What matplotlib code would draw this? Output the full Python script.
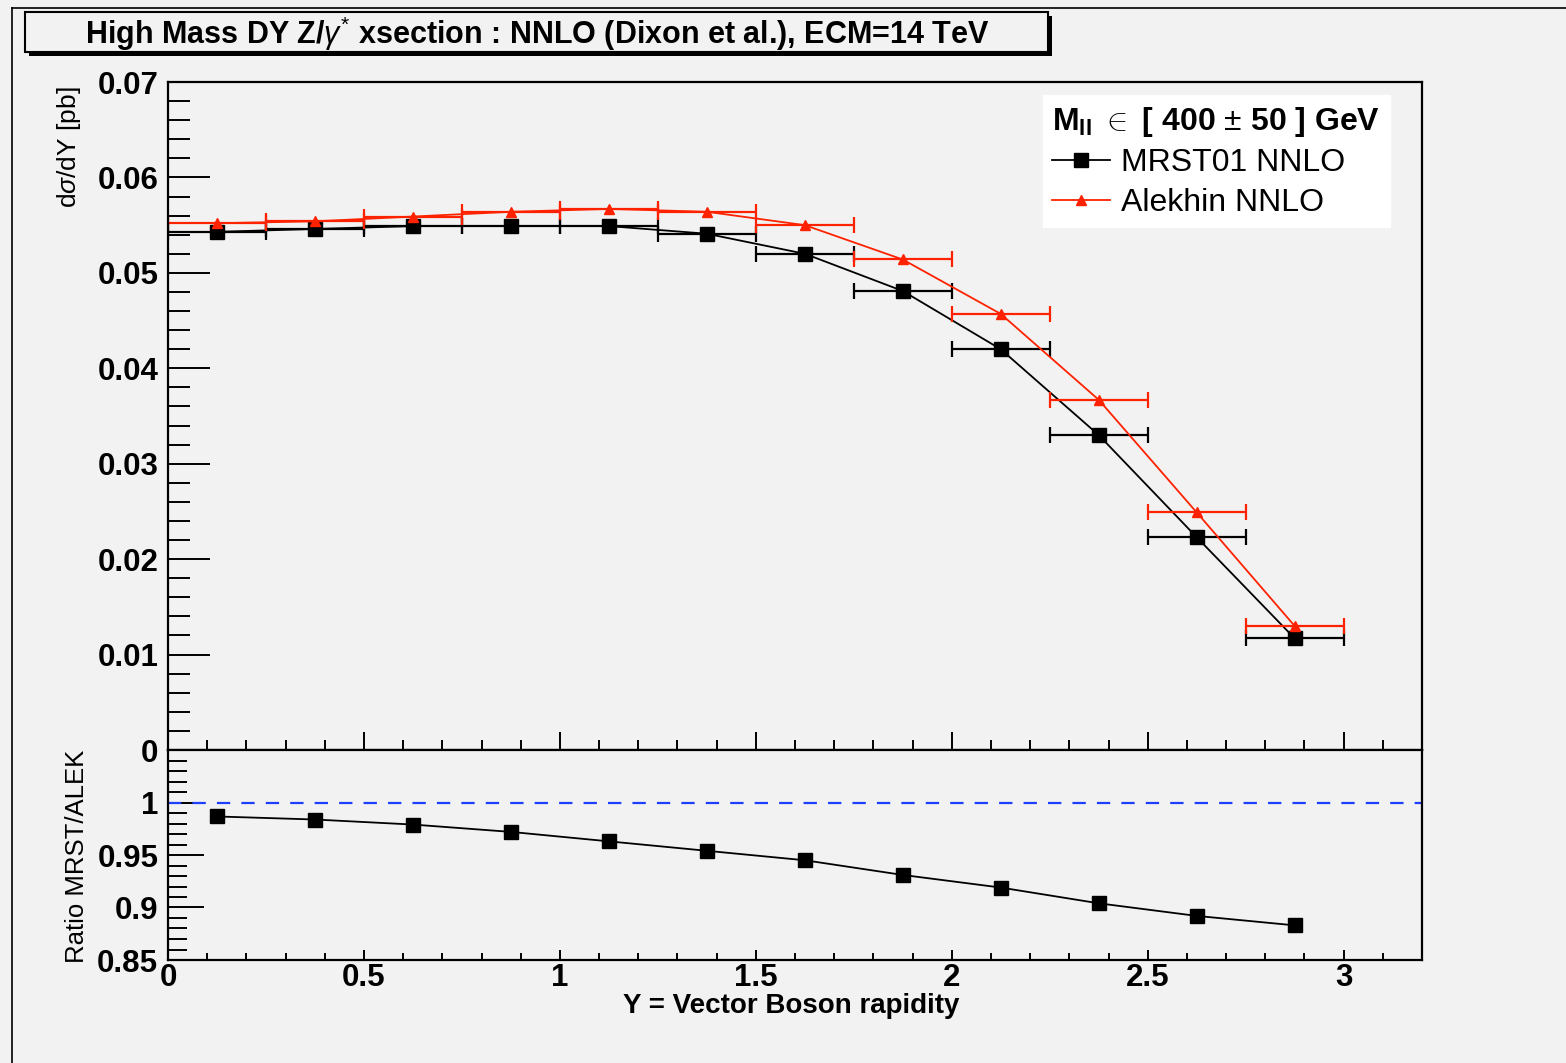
import matplotlib
matplotlib.use('Agg')
import matplotlib.pyplot as plt
from matplotlib.lines import Line2D
from matplotlib.patches import Rectangle
from matplotlib.ticker import MultipleLocator, FixedLocator
import numpy as np

plt.rcParams['font.family'] = ['Liberation Sans', 'DejaVu Sans']
plt.rcParams['mathtext.fontset'] = 'custom'
plt.rcParams['mathtext.rm'] = 'Liberation Sans'
plt.rcParams['mathtext.bf'] = 'Liberation Sans:bold'
plt.rcParams['mathtext.it'] = 'Liberation Sans:italic'

# rapidity bin centres (bin width 0.25)
y_bins = [0.125, 0.375, 0.625, 0.875, 1.125, 1.375, 1.625, 1.875, 2.125, 2.375, 2.625, 2.875]
bin_half = 0.125

mrst = [0.0543, 0.0546, 0.0549, 0.0549, 0.0549, 0.0541, 0.0520, 0.0481, 0.0420, 0.0330, 0.0223, 0.0117]
alekhin = [0.0552, 0.0554, 0.0559, 0.0564, 0.0567, 0.0564, 0.0550, 0.0514, 0.0457, 0.0367, 0.0249, 0.0130]
ratio = [0.9867, 0.9838, 0.979, 0.972, 0.963, 0.954, 0.945, 0.931, 0.919, 0.904, 0.892, 0.883]

bg = '#f2f2f2'
red = '#ff2200'

W, H = 1566, 1063
fig = plt.figure(figsize=(W / 100, H / 100), dpi=100, facecolor=bg)

def fx(px):
    return px / W

def fy(py):
    return 1 - py / H

left, right = 168, 1422
ax1 = fig.add_axes([fx(left), fy(750), fx(right) - fx(left), fy(82) - fy(750)], facecolor=bg)
ax2 = fig.add_axes([fx(left), fy(960), fx(right) - fx(left), fy(750) - fy(960)], facecolor=bg)

# ---- top panel
ax1.errorbar(y_bins, mrst, xerr=bin_half, fmt='none', ecolor='black', elinewidth=1.6, capsize=6, capthick=1.6)
ax1.plot(y_bins, mrst, color='black', lw=1.3)
ax1.plot(y_bins, mrst, ls='none', marker='s', ms=10, color='black')
ax1.errorbar(y_bins, alekhin, xerr=bin_half, fmt='none', ecolor=red, elinewidth=1.6, capsize=6, capthick=1.6)
ax1.plot(y_bins, alekhin, color=red, lw=1.3)
ax1.plot(y_bins, alekhin, ls='none', marker='^', ms=7, color=red)

ax1.set_xlim(0, 3.2)
ax1.set_ylim(0, 0.07)
ax1.yaxis.set_minor_locator(MultipleLocator(0.002))
ax1.xaxis.set_major_locator(MultipleLocator(0.5))
ax1.xaxis.set_minor_locator(MultipleLocator(0.1))
ax1.set_yticks([0, 0.01, 0.02, 0.03, 0.04, 0.05, 0.06, 0.07])
ax1.set_yticklabels(['0', '0.01', '0.02', '0.03', '0.04', '0.05', '0.06', '0.07'])
ax1.tick_params(axis='y', which='major', direction='in', length=30, width=1.4, pad=7,
                labelsize=22.5, right=False)
ax1.tick_params(axis='y', which='minor', direction='in', length=16, width=1.4)
ax1.tick_params(axis='x', which='major', direction='in', length=13, width=1.4, labelbottom=False)
ax1.tick_params(axis='x', which='minor', direction='in', length=7, width=1.4)
for lab in ax1.get_yticklabels():
    lab.set_fontweight('bold')

leg_handles = [Line2D([], [], color='black', lw=1.3, marker='s', ms=10),
               Line2D([], [], color=red, lw=1.3, marker='^', ms=7)]
leg = ax1.legend(leg_handles, ['MRST01 NNLO', 'Alekhin NNLO'], loc='upper right',
                 bbox_to_anchor=(0.9745, 0.9805), borderaxespad=0, fontsize=23, frameon=True,
                 fancybox=False, framealpha=1, edgecolor='white', facecolor='white',
                 handlelength=1.8, handletextpad=0.35, borderpad=0.3, labelspacing=0.3,
                 title=r'$\mathbf{M_{ll}}$ $\in$ $\mathbf{[\ 400}$ $\pm$ $\mathbf{50\ ]}$ $\mathbf{GeV}$',
                 title_fontsize=23)
leg._legend_box.align = 'left'

# ---- ratio panel
ax2.axhline(1.0, color='#1f3fff', lw=1.6, ls=(0, (6, 5)))
ax2.plot(y_bins, ratio, color='black', lw=1.3)
ax2.plot(y_bins, ratio, ls='none', marker='s', ms=10, color='black')
ax2.set_xlim(0, 3.2)
ax2.set_ylim(0.85, 1.05)
ax2.yaxis.set_major_locator(FixedLocator([0.85, 0.9, 0.95, 1.0]))
ax2.yaxis.set_minor_locator(MultipleLocator(0.01))
ax2.xaxis.set_minor_locator(MultipleLocator(0.1))
ax2.set_yticklabels(['0.85', '0.9', '0.95', '1'])
ax2.set_xticks([0, 0.5, 1, 1.5, 2, 2.5, 3])
ax2.set_xticklabels(['0', '0.5', '1', '1.5', '2', '2.5', '3'])
ax2.tick_params(axis='y', which='major', direction='in', length=26, width=1.4, pad=7, labelsize=22.5)
ax2.tick_params(axis='y', which='minor', direction='in', length=14, width=1.4)
ax2.tick_params(axis='x', which='major', direction='in', length=7, width=1.4, pad=2, labelsize=22.5)
ax2.tick_params(axis='x', which='minor', direction='in', length=5, width=1.4)
for lab in ax2.get_yticklabels() + ax2.get_xticklabels():
    lab.set_fontweight('bold')

for ax in (ax1, ax2):
    for s in ax.spines.values():
        s.set_linewidth(1.6)

# ---- axis titles
fig.text(fx(69), fy(86), r'd$\sigma$/dY [pb]', rotation=90, ha='center', va='top', fontsize=19)
fig.text(fx(77), fy(750), 'Ratio MRST/ALEK', rotation=90, ha='center', va='top', fontsize=18.5)
fig.text(fx(791), fy(1013), 'Y = Vector Boson rapidity', ha='center', va='baseline',
         fontsize=20, fontweight='bold')

# ---- title box with shadow
fig.add_artist(Rectangle((fx(29), fy(56)), fx(1052) - fx(29), fy(16) - fy(56),
                         transform=fig.transFigure, facecolor='black', edgecolor='none'))
fig.add_artist(Rectangle((fx(25), fy(52)), fx(1048) - fx(25), fy(12) - fy(52),
                         transform=fig.transFigure, facecolor=bg, edgecolor='black', lw=1.5))
fig.text(fx(537), fy(34), r'High Mass DY Z/$\gamma^{*}$ xsection : NNLO (Dixon et al.), ECM=14 TeV',
         ha='center', va='center', fontsize=22, fontweight='bold')

# ---- outer canvas frame
fig.add_artist(Line2D([fx(12), 1], [fy(8), fy(8)], transform=fig.transFigure, color='black', lw=1.2))
fig.add_artist(Line2D([fx(12), fx(12)], [fy(8), 0], transform=fig.transFigure, color='black', lw=1.2))

fig.savefig('out.png', dpi=100, facecolor=bg)
